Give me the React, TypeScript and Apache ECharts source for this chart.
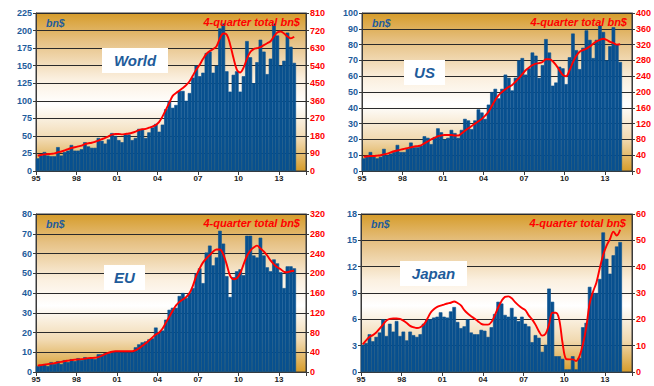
import React, { useEffect, useRef } from 'react';
import * as echarts from 'echarts';

const yearLabels = ['95', '98', '01', '04', '07', '10', '13'];

const worldBars = [18, 22, 27, 22, 21, 21, 34, 22, 27, 29, 37, 29, 29, 31, 41, 35, 33, 33, 47, 43, 39, 45, 54, 50, 44, 41, 52, 52, 44, 47, 60, 60, 47, 55, 62, 67, 56, 66, 88, 100, 90, 94, 114, 114, 100, 111, 133, 150, 135, 140, 168, 170, 140, 150, 203, 210, 142, 113, 137, 142, 113, 135, 185, 162, 125, 155, 187, 170, 138, 160, 210, 193, 150, 157, 197, 177, 154];
const worldTotal = [78, 82, 85, 87, 88, 90, 96, 100, 106, 112, 118, 122, 126, 130, 138, 142, 145, 150, 156, 163, 170, 178, 186, 190, 190, 188, 190, 192, 196, 202, 210, 214, 216, 222, 228, 236, 252, 280, 315, 350, 385, 400, 412, 425, 440, 460, 490, 520, 545, 575, 600, 615, 625, 640, 680, 705, 700, 650, 580, 520, 505, 530, 575, 610, 625, 630, 635, 645, 655, 665, 690, 710, 715, 705, 690, 680, 688];

const usBars = [8, 9, 12, 9, 8, 9, 14, 10, 11, 12, 16.5, 12, 12, 14, 18, 15, 15, 16, 22, 21, 17, 21.5, 27, 24.5, 20, 21, 26, 24, 21, 26, 33, 32, 26.5, 32, 39, 37, 33, 42, 50, 52, 46, 52, 61, 59, 51, 59, 70, 71.5, 61, 65, 75, 73, 59, 67, 83.5, 75, 54, 56, 66, 65, 55, 72, 87, 76.5, 64.5, 78, 89, 83, 71.5, 83, 92, 88, 70, 79, 91, 80, 69];
const usTotal = [36, 37, 38, 38, 39, 40, 42, 44, 47, 50, 52, 54, 56, 58, 60, 62, 63, 65, 70, 75, 80, 84, 88, 90, 91, 91, 91, 90, 90, 95, 102, 108, 114, 120, 126, 132, 140, 150, 165, 180, 192, 200, 207, 213, 218, 226, 235, 245, 255, 262, 268, 272, 273, 276, 283, 283, 278, 268, 255, 243, 240, 255, 275, 292, 302, 306, 310, 315, 322, 328, 332, 335, 332, 327, 324, 320, 321];

const euBars = [3, 3.5, 4, 3, 5, 4, 5.5, 4, 6, 5, 6.5, 5.5, 7, 6, 7.5, 7, 7, 6.5, 9, 9, 9.5, 9.5, 10.5, 10.5, 10.5, 10, 10, 10, 10, 12.5, 14, 15, 15.5, 16.5, 17, 22.5, 20, 21, 26.5, 31.5, 32.5, 32.5, 38.5, 40, 37.5, 40, 42.5, 50, 52.5, 45, 60.5, 64, 54, 58, 71.5, 65, 48.5, 38, 48, 51, 52, 49, 69, 69, 59, 58, 68, 59, 53, 51, 57, 55, 50.5, 42.5, 53.5, 53.5, 52.5];
const euTotal = [13, 14, 15, 16, 17, 18, 19.5, 20.5, 22, 23, 24, 25, 25.5, 26, 27, 28, 28.5, 29, 30, 33, 36, 39, 41, 42, 42, 42, 42, 42, 42, 44, 48, 53, 58, 64, 70, 76, 80, 88, 100, 112, 124, 135, 142, 147, 152, 160, 175, 195, 210, 222, 230, 237, 244, 248, 248, 238, 218, 195, 188, 190, 200, 218, 235, 246, 252, 256, 250, 244, 236, 226, 218, 212, 208, 203, 202, 204, 205];

const japanBars = [3.1, 3.3, 4.3, 3.5, 4, 4.5, 6, 4.1, 5.5, 4.6, 5.8, 4.1, 4.6, 3.6, 4.6, 4.2, 4, 4.3, 5.5, 6, 6, 6.2, 6.3, 6.8, 6.3, 6.2, 6.9, 7.4, 5.7, 5, 5.2, 6, 4.5, 4.3, 4.3, 4.8, 4.7, 4, 5.1, 6.6, 8, 7.8, 6.5, 6.3, 7.3, 6.3, 5.8, 6.3, 5.5, 5.2, 3.4, 4.2, 3.9, 2.3, 3.1, 9.5, 8, 1.8, 1.8, 1.5, 0.3, 0.3, 1.8, 0.3, 1.6, 5.1, 5.6, 9.7, 9, 9, 10.6, 15.9, 12.9, 11.2, 13.3, 14.3, 14.8];
const japanTotal = [10.5, 12, 13.3, 14, 15, 16.5, 18, 19.5, 20.2, 20.3, 20.3, 20.2, 19.5, 18.6, 17.5, 17, 16.7, 17, 18, 20, 22.4, 23.8, 24.7, 25.2, 25.6, 26, 26.3, 26.8, 26.2, 25.3, 23.5, 22.2, 21.2, 20.3, 19.3, 18.3, 18, 18, 19, 21.5, 24.5, 27, 28.5, 28.7, 28, 26.5, 25.3, 24.3, 23.5, 21.5, 20, 18, 15.5, 13.8, 14.5, 18, 22.5, 22.5, 20, 11, 5, 4.8, 4.8, 4.2, 6, 10.5, 17, 26, 30.5, 34, 39.5, 44.5, 48, 50.5, 53.3, 51.8, 54];

const FONT = '"Liberation Sans", Arial, Helvetica, sans-serif';
const BLUE_TEXT = '#1E5C9B';
const BAR = '#08508F';
const RED = '#FF0000';
const AXIS = '#3a3a3a';

const panels = [
  { name: 'World', bars: worldBars, total: worldTotal, lmax: 225, lint: 25, rmax: 810, rint: 90,
    grid: { left: 36, top: 13, width: 270, height: 158 }, box: { x: 102, y: 48, w: 66, h: 25 } },
  { name: 'US', bars: usBars, total: usTotal, lmax: 100, lint: 10, rmax: 400, rint: 40,
    grid: { left: 362, top: 13, width: 271, height: 158 }, box: { x: 404, y: 60, w: 41, h: 25 } },
  { name: 'EU', bars: euBars, total: euTotal, lmax: 80, lint: 10, rmax: 320, rint: 40,
    grid: { left: 36, top: 214, width: 270, height: 158 }, box: { x: 104, y: 265, w: 41, h: 25 } },
  { name: 'Japan', bars: japanBars, total: japanTotal, lmax: 18, lint: 3, rmax: 60, rint: 10,
    grid: { left: 361, top: 214, width: 271, height: 158 }, box: { x: 400, y: 261, w: 67, h: 25 } },
];

const bg = {
  type: 'linear', x: 0, y: 0, x2: 0, y2: 1,
  colorStops: [
    { offset: 0, color: '#D69C2A' },
    { offset: 0.18, color: '#E6C184' },
    { offset: 0.42, color: '#FBF0E0' },
    { offset: 0.58, color: '#FFFFFF' },
    { offset: 0.8, color: '#F1D9B0' },
    { offset: 1, color: '#D69C2A' },
  ],
};

function buildOption() {
  const grid: any[] = [];
  const xAxis: any[] = [];
  const yAxis: any[] = [];
  const series: any[] = [];
  const graphic: any[] = [];
  const labelBase = { fontFamily: FONT, fontWeight: 'bold', fontSize: 9 };

  panels.forEach((p, k) => {
    grid.push({ ...p.grid, show: true, backgroundColor: bg, borderWidth: 1, borderColor: AXIS });
    xAxis.push({
      gridIndex: k, type: 'value', min: 0, max: 80, interval: 12,
      axisLine: { show: true, lineStyle: { color: AXIS, width: 1 } },
      axisTick: { show: true, length: 4, lineStyle: { color: AXIS } },
      splitLine: { show: false },
      axisLabel: {
        ...labelBase, fontSize: 8, color: '#222', margin: 3,
        formatter: (v: number) => (v % 12 === 0 && v / 12 < yearLabels.length ? yearLabels[v / 12] : ''),
      },
    });
    yAxis.push({
      gridIndex: k, type: 'value', position: 'left', min: 0, max: p.lmax, interval: p.lint,
      axisLine: { show: true, lineStyle: { color: AXIS } },
      axisTick: { show: true, length: 3, lineStyle: { color: AXIS } },
      splitLine: { show: true, lineStyle: { color: '#2a2a2a', width: 1 } },
      axisLabel: { ...labelBase, color: BLUE_TEXT, margin: 4 },
    });
    yAxis.push({
      gridIndex: k, type: 'value', position: 'right', min: 0, max: p.rmax, interval: p.rint,
      axisLine: { show: true, lineStyle: { color: AXIS } },
      axisTick: { show: true, length: 3, lineStyle: { color: AXIS } },
      splitLine: { show: false },
      axisLabel: { ...labelBase, color: RED, margin: 4 },
    });
    series.push({
      type: 'bar', xAxisIndex: k, yAxisIndex: 2 * k, barWidth: 3.6, z: 2,
      itemStyle: { color: BAR, borderColor: BAR, borderWidth: 0.6 },
      data: p.bars.map((v, i) => [i + 0.5, v]),
    });
    series.push({
      type: 'line', xAxisIndex: k, yAxisIndex: 2 * k + 1, smooth: 0.35, showSymbol: false, z: 4,
      lineStyle: { color: RED, width: 1.9 },
      data: p.total.map((v, i) => [i + 0.5, v]),
    });
    const g = p.grid;
    graphic.push({
      type: 'rect', z: 10, shape: { x: p.box.x, y: p.box.y, width: p.box.w, height: p.box.h },
      style: { fill: '#FFFFFF' },
    });
    graphic.push({
      type: 'text', z: 11, x: p.box.x + p.box.w / 2, y: p.box.y + p.box.h / 2,
      style: {
        text: p.name, fill: BLUE_TEXT, fontFamily: FONT, fontSize: 15, fontWeight: 'bold', fontStyle: 'italic',
        textAlign: 'center', textVerticalAlign: 'middle', align: 'center', verticalAlign: 'middle',
      },
    });
    graphic.push({
      type: 'text', z: 11, x: g.left + 10, y: g.top + 10,
      style: {
        text: 'bn$', fill: BLUE_TEXT, fontFamily: FONT, fontSize: 10.5, fontWeight: 'bold', fontStyle: 'italic',
        textAlign: 'left', textVerticalAlign: 'middle', align: 'left', verticalAlign: 'middle',
      },
    });
    graphic.push({
      type: 'text', z: 11, x: g.left + g.width - 6, y: g.top + 9,
      style: {
        text: '4-quarter total bn$', fill: RED, fontFamily: FONT, fontSize: 11, fontWeight: 'bold', fontStyle: 'italic',
        textAlign: 'right', textVerticalAlign: 'middle', align: 'right', verticalAlign: 'middle',
      },
    });
  });

  return { animation: false, backgroundColor: '#FFFFFF', grid, xAxis, yAxis, series, graphic };
}

export default function App() {
  const ref = useRef<HTMLDivElement>(null);
  useEffect(() => {
    if (!ref.current) return;
    const chart = echarts.init(ref.current, undefined, { renderer: 'svg' });
    chart.setOption(buildOption() as any);
    return () => chart.dispose();
  }, []);
  return <div ref={ref} style={{ position: 'absolute', left: 0, top: 0, width: 654, height: 386 }} />;
}
